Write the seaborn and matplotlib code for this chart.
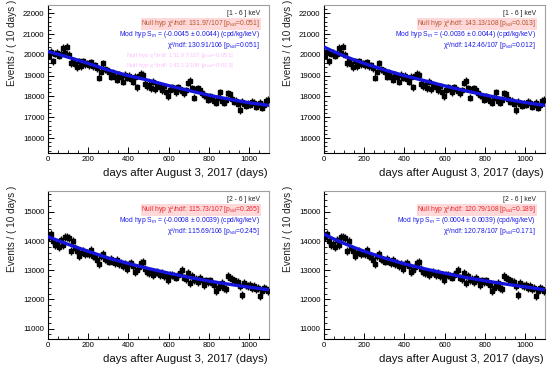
import numpy as np
import pandas as pd
import matplotlib
matplotlib.use("Agg")
import matplotlib.pyplot as plt
from matplotlib.ticker import MultipleLocator
import seaborn as sns

sns.set_theme(style="white")
plt.rcParams['font.family'] = ['Liberation Sans', 'DejaVu Sans']
plt.rcParams['mathtext.fontset'] = 'custom'
plt.rcParams['mathtext.rm'] = 'Liberation Sans'
plt.rcParams['mathtext.it'] = 'Liberation Sans:italic'

# ---------------- data ----------------
bin_centers = np.arange(5, 1100, 10)   # 10-day bins

counts_1_6 = [
    19950, 20150, 19700, 20050, 20100, 19950, 20050, 20350, 20100, 20400,
    20000, 19600, 19750, 19550, 19400, 19700, 19450, 19700, 19550, 19600,
    19500, 19650, 19450, 19500, 19350, 18900, 19200, 19600, 19300, 19250,
    19200, 18950, 19150, 18950, 18800, 19050, 18950, 18700, 19050, 18900,
    19000, 18850, 18700, 18950, 18450, 19000, 19100, 19050, 18600, 18500,
    18550, 18400, 18700, 18350, 18550, 18450, 18300, 18500, 18200, 18000,
    18300, 18450, 18350, 18200, 18450, 18350, 18250, 18150, 18300, 18650,
    18750, 18400, 17950, 18350, 18400, 18300, 18150, 18050, 18000, 17850,
    18000, 17900, 17800, 17700, 17950, 18200, 17800, 17700, 17850, 18150,
    18100, 17900, 17750, 17800, 17650, 17350, 17750, 17650, 17550, 17650,
    17600, 17750, 17700, 17500, 17600, 17700, 17450, 17600, 17800, 17850,
]
err_1_6 = 170

counts_2_6 = [
    14150, 14250, 14000, 13850, 13900, 13800, 14050, 13850, 14150, 14150,
    14100, 13650, 14000, 13750, 13650, 13500, 13600, 13650, 13550, 13600,
    13550, 13700, 13500, 13450, 13350, 13200, 13500, 13550, 13400, 13350,
    13300, 13400, 13300, 13250, 13350, 13200, 13250, 13150, 13200, 13050,
    13200, 13250, 13150, 12950, 13000, 13100, 13250, 13300, 13050, 12950,
    12900, 12950, 12850, 12900, 12950, 12850, 12900, 12800, 12850, 12650,
    12850, 12850, 12800, 12750, 12850, 12900, 13000, 12750, 12700, 12900,
    12550, 12800, 12650, 12700, 12600, 12750, 12650, 12500, 12650, 12600,
    12650, 12550, 12500, 12300, 12400, 12450, 12550, 12400, 12350, 12800,
    12750, 12700, 12650, 12600, 12600, 12450, 12150, 12550, 12500, 12450,
    12500, 12400, 12450, 12350, 12400, 12100, 12300, 12400, 12350, 12300,
]
err_2_6 = 135

fit_days = [0, 50, 100, 150, 200, 300, 400, 500, 600, 700, 800, 900, 1000, 1100]
fit_tl = [20160, 20030, 19890, 19740, 19590, 19270, 19000, 18780, 18520, 18290, 18060, 17870, 17700, 17570]
fit_tr = [20380, 20150, 19950, 19760, 19590, 19280, 19000, 18760, 18510, 18280, 18070, 17880, 17710, 17570]
fit_bl = [14150, 14020, 13890, 13770, 13650, 13420, 13230, 13060, 12900, 12760, 12630, 12520, 12420, 12330]
fit_br = [14240, 14070, 13920, 13780, 13650, 13420, 13220, 13050, 12900, 12760, 12640, 12530, 12430, 12330]

energy_labels = ["[1 - 6 ] keV", "[1 - 6 ] keV", "[2 - 6 ] keV", "[2 - 6 ] keV"]
null_texts = [
    r"Null hyp χ²/ndf: 131.97/107 [p$_{val}$=0.051]",
    r"Null hyp χ²/ndf: 143.13/108 [p$_{val}$=0.013]",
    r"Null hyp χ²/ndf: 115.73/107 [p$_{val}$=0.265]",
    r"Null hyp χ²/ndf: 120.79/108 [p$_{val}$=0.189]",
]
mod_texts = [
    r"Mod hyp S$_m$ = (-0.0045 ± 0.0044) (cpd/kg/keV)",
    r"Mod hyp S$_m$ = (-0.0036 ± 0.0044) (cpd/kg/keV)",
    r"Mod hyp S$_m$ = (-0.0008 ± 0.0039) (cpd/kg/keV)",
    r"Mod hyp S$_m$ = (0.0004 ± 0.0039) (cpd/kg/keV)",
]
chi_texts = [
    r"χ²/ndf: 130.91/106 [p$_{val}$=0.051]",
    r"χ²/ndf: 142.46/107 [p$_{val}$=0.012]",
    r"χ²/ndf: 115.69/106 [p$_{val}$=0.245]",
    r"χ²/ndf: 120.78/107 [p$_{val}$=0.171]",
]

x_label = "days after August 3, 2017 (days)"
y_label = "Events / ( 10 days )"

# ---------------- figure ----------------
W, H = 550, 372
fig = plt.figure(figsize=(W / 100, H / 100), dpi=100)

def frac_rect(x0, y0, x1, y1):
    return [x0 / W, 1 - y1 / H, (x1 - x0) / W, (y1 - y0) / H]

rects = [frac_rect(48, 5, 269, 153), frac_rect(324, 5, 545, 153),
         frac_rect(48, 191, 269, 339), frac_rect(324, 191, 545, 339)]
datasets = [counts_1_6, counts_1_6, counts_2_6, counts_2_6]
errs = [err_1_6, err_1_6, err_2_6, err_2_6]
fits = [fit_tl, fit_tr, fit_bl, fit_br]
ylims = [(15280, 22400), (15280, 22400), (10640, 15720), (10640, 15720)]
yticks = [np.arange(16000, 22001, 1000), np.arange(16000, 22001, 1000),
          np.arange(11000, 15001, 1000), np.arange(11000, 15001, 1000)]
null_colors = ['#b4552d', '#b4552d', '#e8252d', '#e8252d']
FS = 4.9

for i in range(4):
    ax = fig.add_axes(rects[i])
    df = pd.DataFrame({"day": bin_centers, "events": datasets[i]})
    ax.errorbar(df["day"], df["events"], yerr=errs[i], xerr=5, fmt='s',
                color='black', ms=2.6, elinewidth=1.0, capsize=0, zorder=3)
    fdf = pd.DataFrame({"day": fit_days, "fit": fits[i]})
    sns.lineplot(data=fdf, x="day", y="fit", ax=ax, color='#1414dc',
                 lw=2.4, zorder=4, sort=False, estimator=None)
    ax.set_xlim(0, 1100)
    ax.set_ylim(*ylims[i])
    ax.set_xlabel("")
    ax.set_ylabel("")
    ax.set_xticks(np.arange(0, 1001, 200))
    ax.set_yticks(yticks[i])
    ax.xaxis.set_minor_locator(MultipleLocator(50))
    ax.yaxis.set_minor_locator(MultipleLocator(200))
    ax.tick_params(which='both', direction='in', left=True, bottom=True,
                   top=False, right=False, labelsize=5.6, colors='black', pad=2.5)
    ax.tick_params(which='major', length=4, width=0.7)
    ax.tick_params(which='minor', length=2, width=0.6)
    for s in ['left', 'bottom']:
        ax.spines[s].set_color('black')
        ax.spines[s].set_linewidth(0.8)
    for s in ['top', 'right']:
        ax.spines[s].set_color('#a0a0a0')
        ax.spines[s].set_linewidth(0.8)

    ax.text(-0.163, 1.035, y_label, transform=ax.transAxes, rotation=90,
            ha='center', va='top', fontsize=7.2, color='#222222')
    ax.text(0.995, -0.135, x_label, transform=ax.transAxes, ha='right',
            va='center', fontsize=8.2, color='#111111')

    # annotations
    xr = 0.96
    ax.text(xr, 0.945, energy_labels[i], transform=ax.transAxes, ha='right',
            va='center', fontsize=FS, color='#222222', zorder=6)
    ax.text(xr, 0.874, null_texts[i], transform=ax.transAxes, ha='right',
            va='center', fontsize=FS, color=null_colors[i], zorder=6,
            bbox=dict(boxstyle='square,pad=0.08', fc='#ffd9d9', ec='none'))
    ax.text(xr, 0.801, mod_texts[i], transform=ax.transAxes, ha='right',
            va='center', fontsize=FS, color='#1a1ae6', zorder=6)
    ax.text(xr, 0.728, chi_texts[i], transform=ax.transAxes, ha='right',
            va='center', fontsize=FS, color='#1a1ae6', zorder=6)

    if i == 0:
        # faint ghost overlay visible in the reference
        ax.text(0.84, 0.66, null_texts[0], transform=ax.transAxes, ha='right',
                va='center', fontsize=4.4, color='#ff66ff', alpha=0.4, zorder=5)
        ax.text(0.84, 0.595, null_texts[1], transform=ax.transAxes, ha='right',
                va='center', fontsize=4.4, color='#ff66ff', alpha=0.4, zorder=5)

fig.savefig("out.png", dpi=100)
